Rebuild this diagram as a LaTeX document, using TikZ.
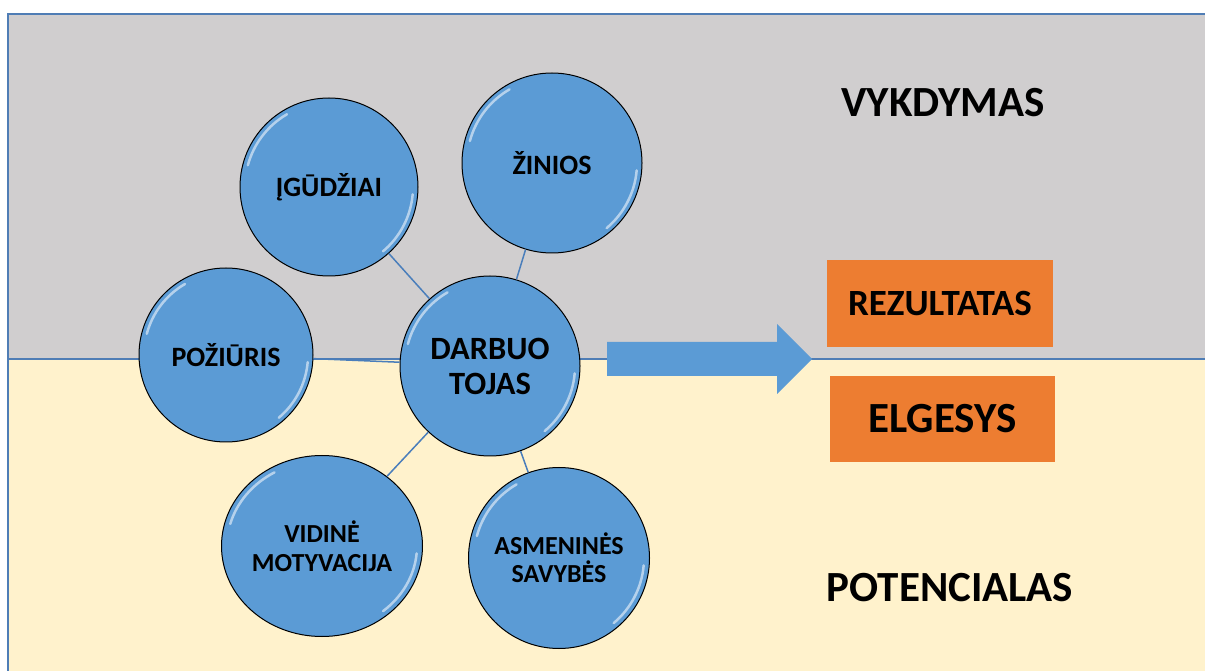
\documentclass[tikz,border=0pt]{standalone}
\usepackage{fontspec}
\setmainfont{Carlito}
\usetikzlibrary{shapes.geometric}
\definecolor{topgray}{HTML}{D0CECF}
\definecolor{cream}{HTML}{FFF2CC}
\definecolor{frameblue}{HTML}{4F7DB5}
\definecolor{bubble}{HTML}{5B9BD5}
\definecolor{orangebox}{HTML}{ED7D31}
\definecolor{connblue}{HTML}{4A7EBB}
\begin{document}
\begin{tikzpicture}[x=1pt,y=1pt,
  zone/.style={draw=frameblue, line width=2pt},
  bub/.style={circle, draw=black, line width=1pt, fill=bubble, inner sep=0pt,
    minimum size=#1, align=center, font=\bfseries},
  conn/.style={draw=connblue, line width=1.5pt},
  hl/.style={white, opacity=0.55, line width=2.5pt, line cap=round},
  obox/.style={fill=orangebox, inner sep=0pt, font=\bfseries},
  big/.style={font=\fontsize{43}{46}\selectfont\bfseries}
]
\useasboundingbox (0,0) rectangle (1205,670);
\clip (0,0) rectangle (1205,670);
\fill[white] (0,0) rectangle (1205,670);
% zones
\filldraw[zone, fill=cream] (8,-10) rectangle (1220,311);
\filldraw[zone, fill=topgray] (8,311) rectangle (1220,656);
% bubbles
\node[bub=178, font=\fontsize{28}{30}\selectfont\bfseries] (g) at (329,483) {ĮGŪDŽIAI};
\node[bub=180, font=\fontsize{28}{30}\selectfont\bfseries] (z) at (552,507) {ŽINIOS};
\node[bub=174, font=\fontsize{28}{30}\selectfont\bfseries] (p) at (226,315) {POŽIŪRIS};
\node[bub=180, font=\fontsize{32.5}{35}\selectfont\bfseries] (d) at (490,304) {DARBUO\\TOJAS};
\node[ellipse, draw=black, line width=1pt, fill=bubble, inner sep=0pt,
  minimum width=201, minimum height=181, align=center,
  font=\fontsize{26}{29}\selectfont\bfseries] (v) at (322,124) {VIDINĖ\\MOTYVACIJA};
\node[bub=181, font=\fontsize{26}{28}\selectfont\bfseries] (a) at (559,112) {ASMENINĖS\\SAVYBĖS};
% connectors
\draw[conn] (d) -- (g);
\draw[conn] (d) -- (z);
\draw[conn] (d) -- (p);
\draw[conn] (d) -- (v);
\draw[conn] (d) -- (a);
% gloss highlights
\foreach \n/\rx/\ry in {g/89/89, z/90/90, p/87/87, d/90/90, v/100/90, a/90/90}{
  \draw[hl] (\n.center) ++(165:{\rx-5} and {\ry-5})
     arc[start angle=165, end angle=120, x radius=\rx-5, y radius=\ry-5];
  \draw[hl] (\n.center) ++(-5:{\rx-5} and {\ry-5})
     arc[start angle=-5, end angle=-50, x radius=\rx-5, y radius=\ry-5];
}
% block arrow
\fill[bubble] (607,294) -- (777,294) -- (777,276) -- (812,311) -- (777,346)
   -- (777,328) -- (607,328) -- cycle;
% boxes
\node[obox, minimum width=226, minimum height=87, font=\fontsize{37}{40}\selectfont\bfseries]
  (rez) at (940,366.5) {REZULTATAS};
\node[obox, minimum width=225, minimum height=86, font=\fontsize{43}{46}\selectfont\bfseries]
  (elg) at (942.5,251) {ELGESYS};
% zone labels
\node[big] (vyk) at (943,567) {VYKDYMAS};
\node[big] (pot) at (950,82) {POTENCIALAS};
\end{tikzpicture}
\end{document}
